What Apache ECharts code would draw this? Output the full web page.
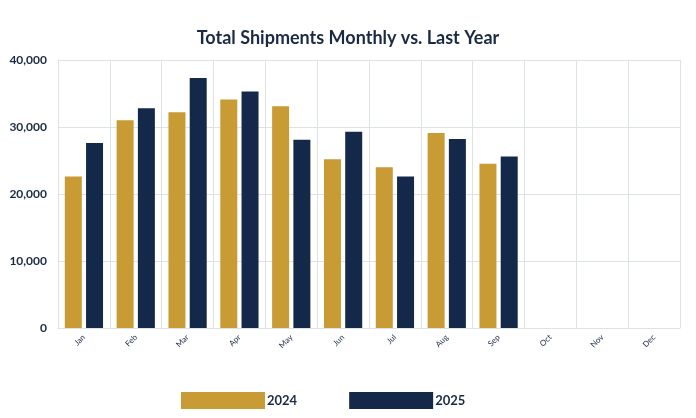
<!DOCTYPE html>
<html>
<head>
<meta charset="utf-8">
<script src="https://cdn.jsdelivr.net/npm/echarts@6/dist/echarts.min.js"></script>
<style>
  html, body { margin: 0; padding: 0; background: #fff; }
  #chart { width: 696px; height: 418px; }
</style>
</head>
<body>
<div id="chart"></div>
<script>
  const months = ['Jan', 'Feb', 'Mar', 'Apr', 'May', 'Jun', 'Jul', 'Aug', 'Sep', 'Oct', 'Nov', 'Dec'];
  const shipments2024 = [22600, 31000, 32200, 34100, 33100, 25200, 24000, 29100, 24500, null, null, null];
  const shipments2025 = [27600, 32800, 37300, 35300, 28100, 29300, 22600, 28200, 25600, null, null, null];
  const yTicks = [0, 10000, 20000, 30000, 40000];

  const GOLD = '#C89B35';
  const NAVY = '#14294A';
  const GRID_LINE = '#DCE3E6';

  const chart = echarts.init(document.getElementById('chart'));

  const option = {
    animation: false,
    title: {
      text: 'Total Shipments Monthly vs. Last Year',
      left: 'center',
      top: 24,
      textStyle: {
        fontFamily: 'Lato',
        fontWeight: 'bold',
        fontSize: 18,
        color: '#1B2A44',
      },
    },
    legend: {
      bottom: 4,
      left: 176,
      itemWidth: 84,
      itemHeight: 17,
      itemGap: 52,
      icon: 'rect',
      textStyle: {
        fontFamily: 'Lato',
        fontWeight: 'bold',
        fontSize: 13,
        color: '#1B2A44',
        padding: [0, 0, 0, -3],
      },
      data: ['2024', '2025'],
    },
    grid: {
      left: 58,
      right: 16,
      top: 60,
      bottom: 90,
      containLabel: false,
    },
    xAxis: {
      type: 'category',
      data: months,
      axisTick: { show: false },
      axisLine: { lineStyle: { color: GRID_LINE } },
      splitLine: { show: true, lineStyle: { color: GRID_LINE } },
      axisLabel: {
        rotate: 45,
        interval: 0,
        margin: 8,
        fontFamily: 'Lato',
        fontSize: 8,
        color: '#1B2A44',
      },
    },
    yAxis: {
      type: 'value',
      min: yTicks[0],
      max: yTicks[yTicks.length - 1],
      interval: yTicks[1] - yTicks[0],
      axisLine: { show: true, lineStyle: { color: GRID_LINE } },
      axisTick: { show: false },
      splitLine: { lineStyle: { color: GRID_LINE } },
      axisLabel: {
        margin: 11,
        fontFamily: 'Lato',
        fontWeight: 'bold',
        fontSize: 12,
        color: '#1B2A44',
        formatter: (v) => v.toLocaleString('en-US'),
      },
    },
    series: [
      {
        name: '2024',
        type: 'bar',
        data: shipments2024,
        barWidth: 17,
        barGap: '25%',
        itemStyle: { color: GOLD },
      },
      {
        name: '2025',
        type: 'bar',
        data: shipments2025,
        barWidth: 17,
        itemStyle: { color: NAVY },
      },
    ],
  };

  chart.setOption(option);
</script>
</body>
</html>
